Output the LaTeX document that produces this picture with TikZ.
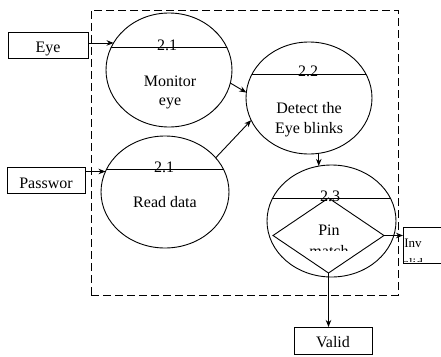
\documentclass[tikz,border=0pt]{standalone}
\usepackage{fontspec}
\setmainfont{Liberation Serif}
\usetikzlibrary{shapes.geometric,arrows.meta,calc}

% horizontal chord across a process bubble: #1 node, #2/#3 radii, #4 height above centre
\newcommand\bubblechord[4]{%
  \begin{scope}
    \clip (#1.center) ellipse [x radius=#2pt, y radius=#3pt];
    \draw ($(#1.center)+(-90,-#4)$) -- ++(180,0);
  \end{scope}}

\begin{document}
\begin{tikzpicture}[x=1pt,y=-1pt,line width=0.9pt,
  every node/.style={inner sep=0pt,outer sep=0pt},
  lbl/.style={font=\fontsize{16}{19}\selectfont,anchor=base},
  small/.style={font=\fontsize{13}{15}\selectfont,anchor=base},
  proc/.style={draw,ellipse},
  ent/.style={draw,rectangle},
  arr/.style={-{Stealth[length=7pt,width=5.5pt]}},
  boundary/.style={draw,rectangle,dash pattern=on 8pt off 4pt,line width=1pt}]

\clip (0,0) rectangle (441,356);

% system boundary
\node[boundary,minimum width=307pt,minimum height=285pt] (sys) at (244.5,152.5) {};

% process bubbles
\node[proc,minimum width=126pt,minimum height=114pt] (c1) at (169,70) {};
\node[proc,minimum width=128pt,minimum height=112pt] (c2) at (165,192) {};
\node[proc,minimum width=126pt,minimum height=112pt] (c3) at (309,98) {};
\node[proc,minimum width=129pt,minimum height=112pt] (c4) at (331.5,221) {};

\bubblechord{c1}{63}{57}{23}
\bubblechord{c2}{64}{56}{23}
\bubblechord{c3}{63}{56}{24}
\bubblechord{c4}{64.5}{56}{23}

% decision inside process 2.3
\node[draw,diamond,aspect=1.48,minimum width=111pt,minimum height=75pt] (pm) at (328.5,235.5) {};

% external entities
\node[ent,minimum width=80pt,minimum height=26pt] (eye) at (48,45) {};
\node[ent,minimum width=78pt,minimum height=26pt] (pw) at (46,180) {};
\node[ent,minimum width=78pt,minimum height=27pt] (valid) at (333,340.5) {};
\node[ent,minimum width=45pt,minimum height=36pt] (inv) at (425.5,245) {};

% labels
\node[lbl] (n1) at (167,50.5) {2.1};
\node[lbl] (t1a) at (170,86) {Monitor};
\node[lbl] (t1b) at (170,105) {eye};

\node[lbl] (n2) at (164,172) {2.1};
\node[lbl] (t2a) at (165,207) {Read data};

\node[lbl] (n3) at (308,76) {2.2};
\node[lbl] (t3a) at (309,113) {Detect the};
\node[lbl] (t3b) at (309,133) {Eye blinks};

\node[lbl] (n4) at (330,201) {2.3};
\node[lbl] (t4a) at (329,235) {Pin};
\begin{scope}
  \clip (280,240) rectangle (380,250);
  \node[lbl] (t4b) at (329,256) {match};
\end{scope}

\node[lbl] (te) at (48,52) {Eye};
\node[lbl] (tp) at (46,188) {Passwor};
\node[lbl] (tv) at (333,347) {Valid};
\node[small] (ti) at (413,247) {Inv};
\begin{scope}
  \clip (404,254) rectangle (440,261);
  \node[small] (ti2) at (413,267) {alid};
\end{scope}

% data flows
\draw[arr] (eye.east |- c1.154) -- (c1.154);
\draw[arr] (pw.east |- c2.161) -- (c2.161);
\draw[arr] (c1.-12) -- (c3.175);
\draw[arr] (c2.34) -- (c3.201);
\draw[arr] (c3.-80) -- (c3.-80 |- c4.102);
\draw[arr] (pm.east) -- (pm.east -| inv.west);
\draw[arr] (pm.south) -- (pm.south |- valid.north);

\end{tikzpicture}
\end{document}
